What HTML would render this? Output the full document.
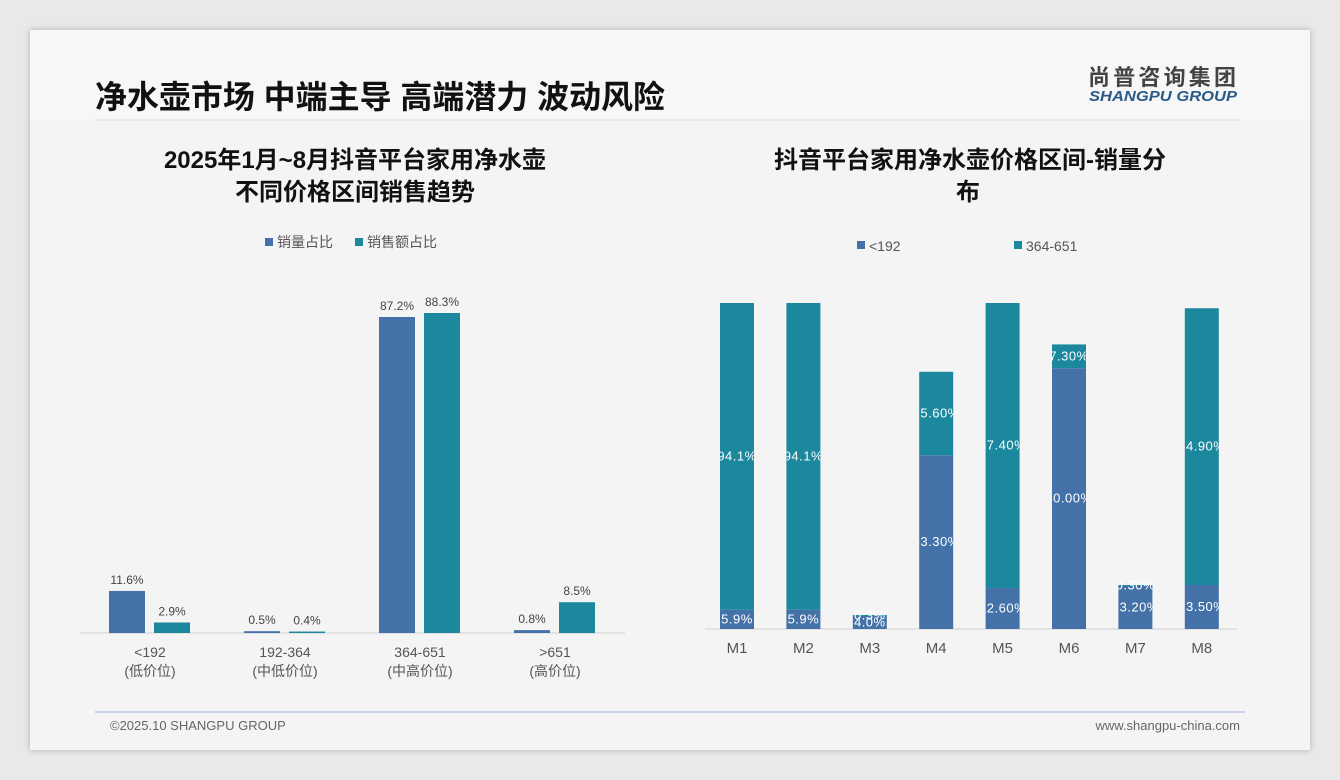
<!DOCTYPE html>
<html><head><meta charset="utf-8"><style>
body{margin:0;width:1340px;height:780px;background:#e9e9e9;font-family:"Liberation Sans","Noto Sans CJK SC",sans-serif;overflow:hidden}
#card{position:absolute;left:30px;top:30px;width:1280px;height:720px;background:#f4f4f4;box-shadow:0 0 6px rgba(0,0,0,.25)}
</style></head><body>
<div id="card"></div>
<svg width="1340" height="780" style="position:absolute;left:0;top:0" font-family="Liberation Sans, Noto Sans CJK SC, sans-serif">
<rect x="30" y="30" width="1280" height="90" fill="#f7f7f7"/>
<line x1="95" y1="120" x2="1240" y2="120" stroke="#dcdcdc"/>
<text x="95" y="108" font-size="32" font-weight="bold" fill="#111" textLength="570" lengthAdjust="spacingAndGlyphs">净水壶市场 中端主导 高端潜力 波动风险</text>
<text x="1088" y="85" font-size="22" font-weight="bold" fill="#444" textLength="148">尚普咨询集团</text>
<text x="1089" y="101" font-size="14.5" font-weight="bold" font-style="italic" fill="#2a5a8a" textLength="148" lengthAdjust="spacingAndGlyphs">SHANGPU GROUP</text>
<text x="355" y="168" font-size="24" font-weight="bold" text-anchor="middle" fill="#111">2025年1月~8月抖音平台家用净水壶</text>
<text x="355" y="200" font-size="24" font-weight="bold" text-anchor="middle" fill="#111">不同价格区间销售趋势</text>
<text x="970" y="168" font-size="24" font-weight="bold" text-anchor="middle" fill="#111">抖音平台家用净水壶价格区间-销量分</text>
<text x="968" y="200" font-size="24" font-weight="bold" text-anchor="middle" fill="#111">布</text>
<g font-size="14" fill="#555">
<rect x="265" y="238" width="8" height="8" fill="#4472a8"/><text x="277" y="247">销量占比</text>
<rect x="355" y="238" width="8" height="8" fill="#1b889e"/><text x="367" y="247">销售额占比</text></g>
<g font-size="14" fill="#555">
<rect x="857" y="241" width="8" height="8" fill="#4472a8"/><text x="869" y="251">&lt;192</text>
<rect x="1014" y="241" width="8" height="8" fill="#1b889e"/><text x="1026" y="251">364-651</text></g>
<g id="left"></g><g id="right"></g>
<line x1="95" y1="712" x2="1245" y2="712" stroke="#9bb5d6"/>
<text x="110" y="730" font-size="13" fill="#666">©2025.10 SHANGPU GROUP</text>
<text x="1240" y="730" font-size="13" fill="#666" text-anchor="end">www.shangpu-china.com</text>
</svg>
<script>
const leftCats=["<192","192-364","364-651",">651"];
const leftSub=["(低价位)","(中低价位)","(中高价位)","(高价位)"];
const volShare=[11.6,0.5,87.2,0.8];
const salesShare=[2.9,0.4,88.3,8.5];
const months=["M1","M2","M3","M4","M5","M6","M7","M8"];
const lowVals=[5.9,5.9,4.0,53.3,12.6,80.0,13.2,13.5];
const midVals=[94.1,94.1,0.3,25.6,87.4,7.3,0.3,84.9];
const lowLabels=["5.9%","5.9%","4.0%","53.30%","12.60%","80.00%","13.20%","13.50%"];
const midLabels=["94.1%","94.1%","0.3%","25.60%","87.40%","7.30%","0.30%","84.90%"];
const NS="http://www.w3.org/2000/svg";
function mk(p,t,a){const e=document.createElementNS(NS,t);for(const k in a)e.setAttribute(k,a[k]);p.appendChild(e);return e;}
const L=document.getElementById('left');
const ly=v=>633-v*3.624, lx=i=>150+135*i;
mk(L,'line',{x1:80,y1:633,x2:625,y2:633,stroke:'#d0d0d0'});
leftCats.forEach((c,i)=>{
 [[volShare[i],'#4472a8',-23],[salesShare[i],'#1b889e',22]].forEach(([v,col,off],j)=>{
  const r=mk(L,'rect',{x:lx(i)+off-18,y:ly(v),width:36,height:633-ly(v),fill:col});
  
  
  const t=mk(L,'text',{x:lx(i)+off,y:ly(v)-7,'font-size':12,'text-anchor':'middle',fill:'#444'});t.textContent=v.toFixed(1)+'%';
 });
 const a=mk(L,'text',{x:lx(i),y:657,'font-size':14,'text-anchor':'middle',fill:'#555'});a.textContent=c;
 
 
 const b=mk(L,'text',{x:lx(i),y:676,'font-size':14,'text-anchor':'middle',fill:'#555'});b.textContent=leftSub[i];
});
const R=document.getElementById('right');
const ry=v=>629-v*3.26, rx=i=>737+66.4*i;
mk(R,'line',{x1:705,y1:629,x2:1237,y2:629,stroke:'#d0d0d0'});
months.forEach((m,i)=>{
 const x0=rx(i)-17;
 const cp=mk(R,'clipPath',{id:'c'+i});mk(cp,'rect',{x:x0,y:250,width:34,height:380});
 const lt=ry(lowVals[i]), mt=ry(lowVals[i]+midVals[i]);
 const b1=mk(R,'rect',{x:x0,y:lt,width:34,height:629-lt,fill:'#4472a8'});
 
 
 const b2=mk(R,'rect',{x:x0,y:mt,width:34,height:lt-mt,fill:'#1b889e'});
 
 
 const g=mk(R,'g',{'clip-path':'url(#c'+i+')','font-size':13,fill:'#fff','text-anchor':'middle','letter-spacing':'0.5'});
 const t1=mk(g,'text',{x:rx(i),y:(lt+629)/2+4});t1.textContent=lowLabels[i];
 const t2=mk(g,'text',{x:rx(i),y:(lt+mt)/2+4});t2.textContent=midLabels[i];
 const a=mk(R,'text',{x:rx(i),y:653,'font-size':15,'text-anchor':'middle',fill:'#555'});a.textContent=m;
 
 
});
</script>
</body></html>
